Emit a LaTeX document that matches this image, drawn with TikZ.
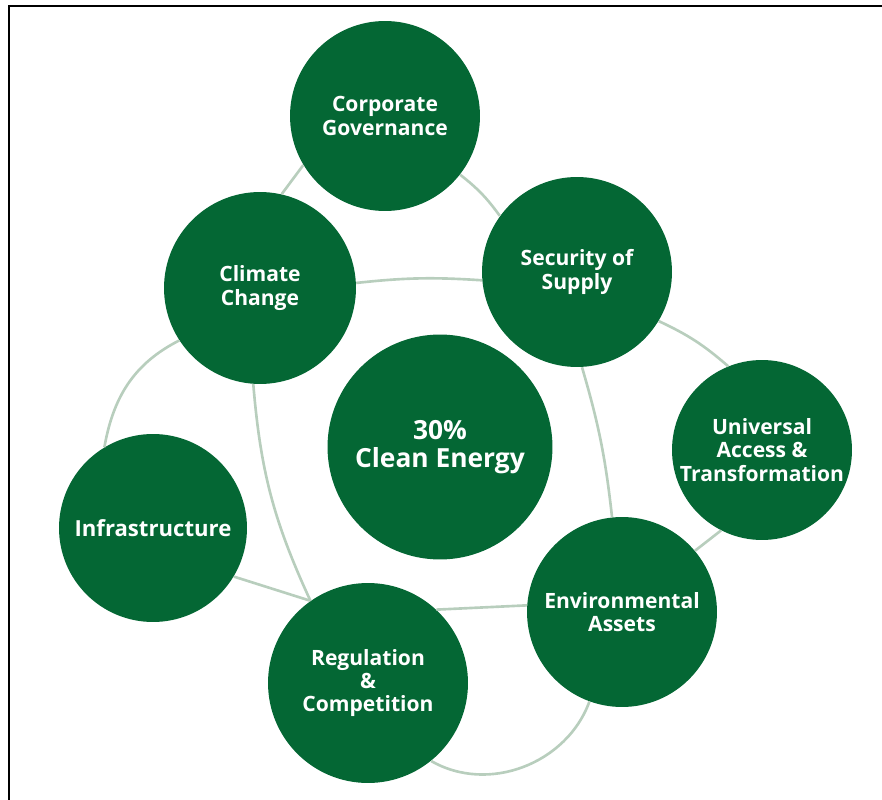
\documentclass[tikz,border=0pt]{standalone}
\usepackage{fontspec}
\setmainfont{Open Sans}
\usepackage{tikz}
\definecolor{hubgreen}{RGB}{4,103,52}
\definecolor{linkgray}{RGB}{184,206,189}

\begin{document}
\begin{tikzpicture}[x=0.02cm,y=-0.02cm,
  hub/.style={circle,fill=hubgreen,text=white,font=\bfseries\fontsize{12}{13.2}\selectfont,align=center,inner sep=0pt},
  link/.style={draw=linkgray,line width=1.5pt}]
\useasboundingbox (0,0) rectangle (882,800);
\draw [line width=1pt] (9,810) -- (9,6) -- (890,6);
\node [hub,minimum size=3.8cm] (corp) at (385,116) {Corporate\\Governance};
\node [hub,minimum size=3.8cm] (supply) at (577,272) {Security of\\Supply};
\node [hub,minimum size=3.84cm] (climate) at (260,288) {Climate\\Change};
\node [hub,minimum size=4.5cm,font=\bfseries\fontsize{15}{16}\selectfont] (clean) at (440,447) {30\%\\Clean Energy};
\node [hub,minimum size=3.6cm] (univ) at (762,450) {Universal\\Access \&\\Transformation};
\node [hub,minimum size=3.76cm,font=\bfseries\fontsize{12.6}{13.2}\selectfont] (infra) at (153,528) {Infrastructure};
\node [hub,minimum size=3.8cm] (env) at (622,612) {Environmental\\Assets};
\node [hub,minimum size=4cm] (reg) at (368,683) {Regulation\\\&\\Competition};
\draw [link] (corp.211) -- (climate.77);
\draw [link] (corp.322) to [bend left=8] (supply.144);
\draw [link] (climate.3) to [bend left=5] (supply.185);
\draw [link] (climate.213) to [out=207,in=80] (infra.121);
\draw [link] (climate.266) to [bend right=10] (reg.125);
\draw [link] (infra.329) -- (reg.125);
\draw [link] (reg.47) -- (env.176);
\draw [link] (supply.273) to [bend left=5] (env.96);
\draw [link] (supply.329) to [bend left=8] (univ.112);
\draw [link] (univ.243) -- (env.40);
\draw [link] (env.250) to [out=-110,in=-30] (reg.309);
\end{tikzpicture}
\end{document}
